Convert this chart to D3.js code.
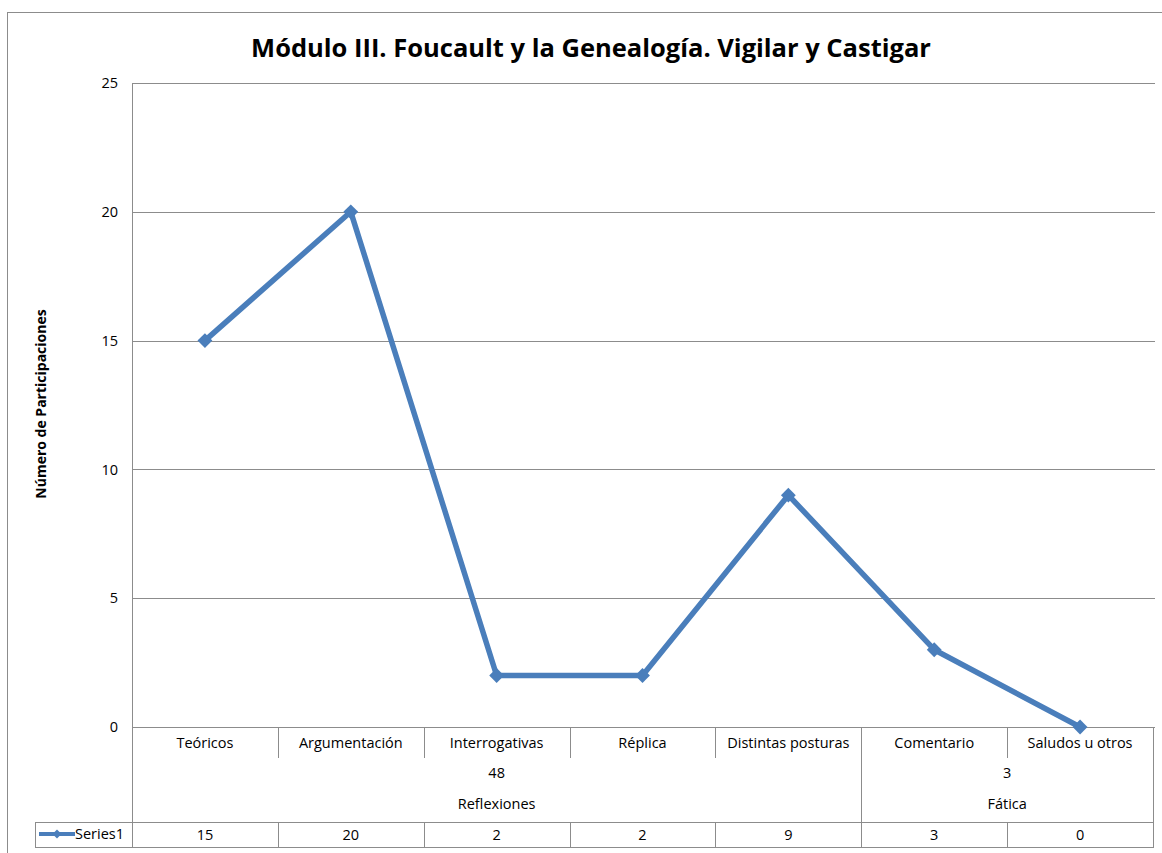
<!DOCTYPE html>
<html><head><meta charset="utf-8">
<script src="https://cdn.jsdelivr.net/npm/d3@7"></script>
<style>body{margin:0;background:#fff}svg{display:block}text{font-family:"Open Sans",sans-serif;fill:#000}</style>
</head><body>
<svg id="c" width="1162" height="853"></svg>
<script>
const categories = ["Teóricos","Argumentación","Interrogativas","Réplica","Distintas posturas","Comentario","Saludos u otros"];
const values = [15,20,2,2,9,3,0];
const groups = [{name:"Reflexiones", total:48, count:5},{name:"Fática", total:3, count:2}];
const yTicks = [0,5,10,15,20,25];
const seriesName = "Series1";
const title = "Módulo III. Foucault y la Genealogía. Vigilar y Castigar";
const yLabel = "Número de Participaciones";

const svg = d3.select("#c");
const L=132, R=1153, T=83, B=727;
const x = d3.scaleBand().domain(categories).range([L,R]);
const y = d3.scaleLinear().domain([0,25]).range([B,T]);
const grid = "#8c8c8c", blue="#4a7ebb", tc="#1a1a1a";
const fs = 14.5;

// outer frame
svg.append("rect").attr("x",7.5).attr("y",12.5).attr("width",1170).attr("height",850).attr("fill","none").attr("stroke",grid);

// title
svg.append("text").attr("x",591).attr("y",57).attr("text-anchor","middle").attr("font-size",25.5).attr("font-weight","bold").text(title);

// gridlines
svg.append("g").selectAll("line").data(yTicks).join("line")
  .attr("x1",L).attr("x2",R+2).attr("y1",d=>Math.round(y(d))+0.5).attr("y2",d=>Math.round(y(d))+0.5)
  .attr("stroke",grid);
// y axis labels
const ya = svg.append("g").attr("transform",`translate(${L},0)`).call(d3.axisLeft(y).tickValues(yTicks).tickSize(0).tickPadding(14));
ya.select(".domain").remove();
ya.selectAll("text").attr("font-size",fs).attr("font-family","Open Sans").attr("fill",tc);

svg.append("text").attr("transform","translate(46,404) rotate(-90)").attr("text-anchor","middle").attr("font-size",14).attr("font-weight","bold").text(yLabel);

// left / right borders of plot/table
svg.append("line").attr("x1",L+0.5).attr("x2",L+0.5).attr("y1",T).attr("y2",847).attr("stroke",grid);
svg.append("line").attr("x1",R+0.5).attr("x2",R+0.5).attr("y1",B).attr("y2",847).attr("stroke",grid);

// category row dividers
const catG = svg.append("g");
categories.forEach((c,i)=>{
  if(i>0){
    catG.append("line").attr("x1",Math.round(x(c))+0.5).attr("x2",Math.round(x(c))+0.5).attr("y1",B).attr("y2",758).attr("stroke",grid);
  }
  catG.append("text").attr("x",x(c)+x.bandwidth()/2).attr("y",748).attr("text-anchor","middle").attr("font-size",fs).attr("fill",tc).text(c);
});
// group dividers and labels
let idx=0;
groups.forEach((g,gi)=>{
  const x0 = x(categories[idx]), x1 = x(categories[idx+g.count-1])+x.bandwidth();
  if(gi>0) svg.append("line").attr("x1",Math.round(x0)+0.5).attr("x2",Math.round(x0)+0.5).attr("y1",B).attr("y2",822).attr("stroke",grid);
  svg.append("text").attr("x",(x0+x1)/2).attr("y",778).attr("text-anchor","middle").attr("font-size",fs).attr("fill",tc).text(g.total);
  svg.append("text").attr("x",(x0+x1)/2).attr("y",809).attr("text-anchor","middle").attr("font-size",fs).attr("fill",tc).text(g.name);
  idx+=g.count;
});
// legend/data row
svg.append("line").attr("x1",35).attr("x2",R+1).attr("y1",822.5).attr("y2",822.5).attr("stroke",grid);
svg.append("line").attr("x1",35).attr("x2",R+1).attr("y1",847.5).attr("y2",847.5).attr("stroke",grid);
svg.append("line").attr("x1",35.5).attr("x2",35.5).attr("y1",822).attr("y2",848).attr("stroke",grid);
categories.forEach((c,i)=>{
  if(i>0) svg.append("line").attr("x1",Math.round(x(c))+0.5).attr("x2",Math.round(x(c))+0.5).attr("y1",822).attr("y2",847).attr("stroke",grid);
  svg.append("text").attr("x",x(c)+x.bandwidth()/2).attr("y",840).attr("text-anchor","middle").attr("font-size",fs).attr("fill",tc).text(values[i]);
});
// legend key
svg.append("line").attr("x1",39).attr("x2",75).attr("y1",834).attr("y2",834).attr("stroke",blue).attr("stroke-width",4);
svg.append("path").attr("d",d3.symbol(d3.symbolSquare,40)()).attr("transform","translate(57,834) rotate(45)").attr("fill",blue);
svg.append("text").attr("x",75).attr("y",839).attr("font-size",fs).attr("fill",tc).text(seriesName);

// line
const pts = categories.map((c,i)=>[x(c)+x.bandwidth()/2, y(values[i])]);
svg.append("path").attr("d",d3.line()(pts)).attr("fill","none").attr("stroke",blue).attr("stroke-width",5.5).attr("stroke-linejoin","round");
svg.append("g").selectAll("path").data(pts).join("path")
  .attr("d",d3.symbol(d3.symbolSquare,110)()).attr("transform",d=>`translate(${d[0]},${d[1]}) rotate(45)`).attr("fill",blue);
</script>
</body></html>
